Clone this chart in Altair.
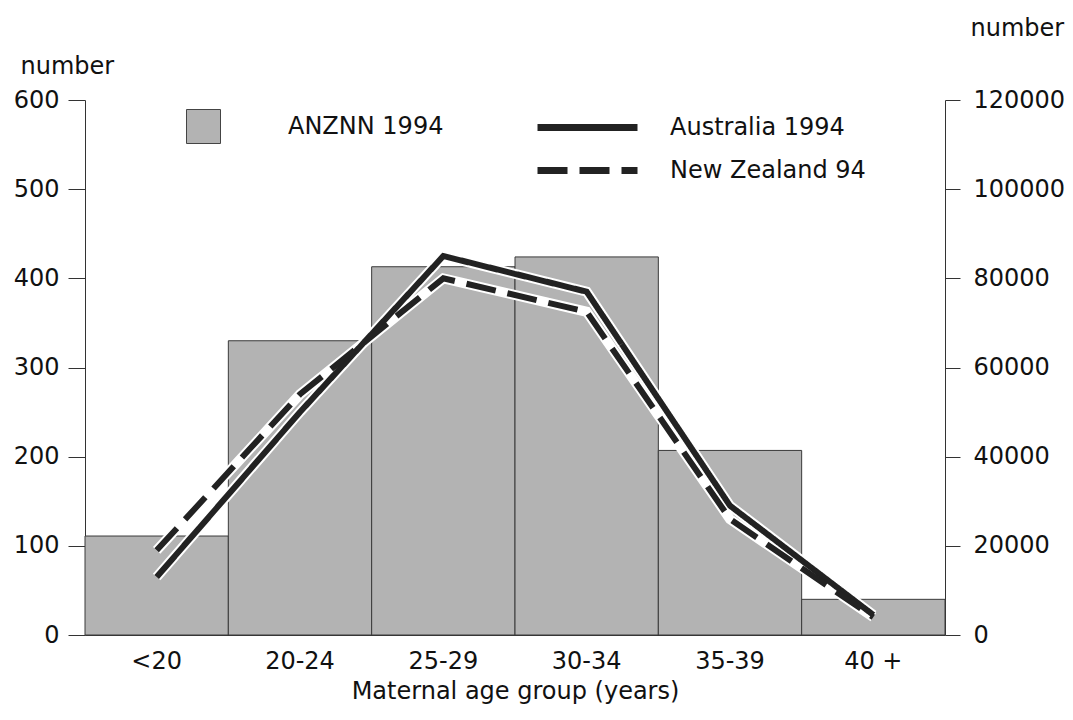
import altair as alt
import pandas as pd

categories = ["<20", "20-24", "25-29", "30-34", "35-39", "40 +"]
anznn_1994 = [111, 330, 413, 424, 207, 40]
australia_1994 = [13000, 50000, 85000, 77000, 29000, 4500]
new_zealand_94 = [19000, 54000, 80000, 72500, 26000, 4000]
left_ticks = [0, 100, 200, 300, 400, 500, 600]
right_ticks = [0, 20000, 40000, 60000, 80000, 100000, 120000]
line_series = ["Australia 1994", "New Zealand 94"]

FONT = "DejaVu Sans"
FS = 24
INK = "#222222"

bar_df = pd.DataFrame({"age": categories, "count": anznn_1994, "series": ["ANZNN 1994"] * len(categories)})
line_df = pd.DataFrame({
    "age": categories * 2,
    "births": australia_1994 + new_zealand_94,
    "series": [line_series[0]] * len(categories) + [line_series[1]] * len(categories),
})

x_enc = alt.X(
    "age:N", sort=categories,
    scale=alt.Scale(paddingInner=0, paddingOuter=0),
    axis=alt.Axis(title="Maternal age group (years)", labelAngle=0, ticks=False,
                  labelPadding=14, titleY=63, titleBaseline="alphabetic",
                  domainColor="#333333"),
)

bars = alt.Chart(bar_df).mark_bar(stroke="#3a3a3a", strokeWidth=1, opacity=1).encode(
    x=x_enc,
    y=alt.Y("count:Q", scale=alt.Scale(domain=[0, 600], nice=False),
            axis=alt.Axis(values=left_ticks, title="number", orient="left", titleAngle=0,
                          titleAlign="left", titleX=-65, titleY=-27, titleBaseline="alphabetic",
                          tickSize=17, labelPadding=9, grid=False)),
    fill=alt.Fill("series:N", scale=alt.Scale(range=["#b3b3b3"]),
                  legend=alt.Legend(orient="none", legendX=101, legendY=9, title=None,
                                    symbolType="square", symbolSize=1156,
                                    symbolStrokeColor="#444444", symbolStrokeWidth=1,
                                    labelOffset=67, padding=0, labelLimit=400)),
)

y2_enc = alt.Y("births:Q", scale=alt.Scale(domain=[0, 120000], nice=False),
               axis=alt.Axis(orient="right", values=right_ticks, format="d", title="number",
                             titleAngle=0, titleAlign="left", titleX=25, titleY=-65,
                             titleBaseline="alphabetic", tickSize=15, labelPadding=13, grid=False))

halo = alt.Chart(line_df).mark_line(color="white", strokeWidth=10).encode(
    x=x_enc, y=y2_enc, detail="series:N"
)
lines = alt.Chart(line_df).mark_line(color=INK, strokeWidth=6).encode(
    x=x_enc, y=y2_enc,
    strokeDash=alt.StrokeDash("series:N",
                              scale=alt.Scale(domain=line_series, range=[[1, 0], [30, 12]]),
                              legend=alt.Legend(orient="none", legendX=489, legendY=14, title=None,
                                                symbolType="M-5,0H5", symbolSize=400,
                                                symbolStrokeWidth=7, symbolStrokeColor=INK,
                                                labelOffset=69, rowPadding=14, padding=0,
                                                labelLimit=400)),
)

chart = alt.layer(bars, alt.layer(halo, lines)).resolve_scale(
    y="independent", fill="independent", strokeDash="independent"
).properties(
    width=860, height=535,
    autosize=alt.AutoSizeParams(type="none"),
    padding={"left": 77, "top": 92, "right": 120, "bottom": 80},
).configure_view(stroke=None).configure_axis(
    labelFont=FONT, titleFont=FONT, labelFontSize=FS, titleFontSize=FS,
    labelColor="#111111", titleColor="#111111", titleFontWeight="normal",
    domainColor="#333333", tickColor="#333333",
).configure_legend(
    labelFont=FONT, labelFontSize=FS, labelColor="#111111",
)

chart.save("out.html", embed_options={"renderer": "svg", "actions": False})
